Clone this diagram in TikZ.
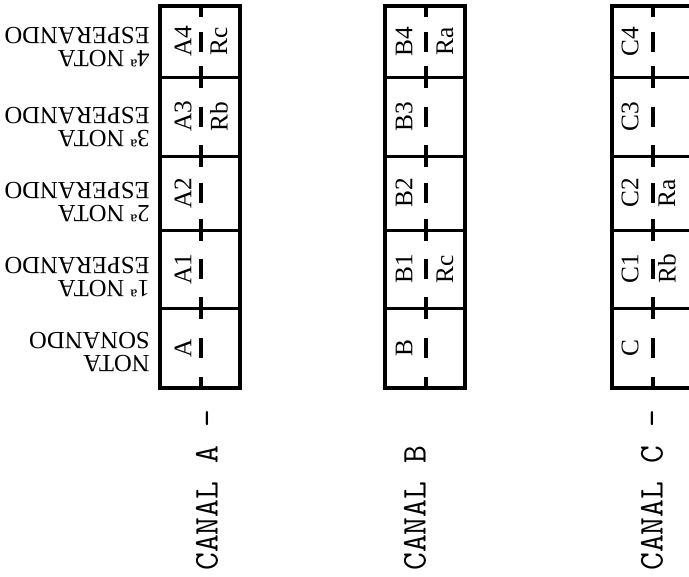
\documentclass[tikz,border=0pt]{standalone}
\usepackage{fontspec}
\setmainfont{Liberation Serif}
\begin{document}
\begin{tikzpicture}[x=0.75pt, y=-0.75pt,
  every node/.style={inner sep=0pt},
  frame/.style={line width=3pt},
  divider/.style={line width=2.25pt},
  midline/.style={line width=2.4pt},
  celltext/.style={font=\fontsize{19}{19}\selectfont, rotate=90},
  waitnote/.style={font=\fontsize{18.5}{17.5}\selectfont, rotate=180, align=left, anchor=west},
  canal/.style={font=\ttfamily\fontsize{26}{26}\selectfont, rotate=90, anchor=west}]
	\useasboundingbox (0,0) rectangle (689,576);
	\clip (0,0) rectangle (689,576);

	% the three columns of boxes
	\foreach \x in {160, 385, 612} {
		\foreach \t/\b in {6/77, 77/156, 156/230, 230/308, 308/388} {
			\draw[divider] (\x,\t) rectangle (\x+80,\b);
			\draw[midline] (\x+41,\t-1) -- (\x+41,\t+11);
			\draw[midline] (\x+41,{(\t+\b)/2-10}) -- (\x+41,{(\t+\b)/2+10});
			\draw[midline] (\x+41,\b-11) -- (\x+41,\b+1);
		}
		\draw[frame] (\x,6) rectangle (\x+80,388);
	}

	% left half of every box
	\foreach \c/\x in {A/183, B/404, C/630} {
		\foreach \n/\y in {/348, 1/269, 2/193, 3/116.5, 4/41.5}
			\node[celltext] (\c\n) at (\x,\y) {\c\n};
	}

	% right half
	\node[celltext] (rA4) at (219, 41.5) {Rc};
	\node[celltext] (rA3) at (219, 116.5) {Rb};
	\node[celltext] (rB4) at (445, 41.5) {Ra};
	\node[celltext] (rB1) at (445, 269) {Rc};
	\node[celltext] (rC2) at (667, 193) {Ra};
	\node[celltext] (rC1) at (667, 269) {Rb};

	% notes beside channel A
	\node[waitnote] (wA) at (150, 352) {NOTA\\SONANDO};
	\node[waitnote] (wA1) at (150, 277) {1ª NOTA\\ESPERANDO};
	\node[waitnote] (wA2) at (150, 202) {2ª NOTA\\ESPERANDO};
	\node[waitnote] (wA3) at (150, 127) {3ª NOTA\\ESPERANDO};
	\node[waitnote] (wA4) at (150, 47) {4ª NOTA\\ESPERANDO};

	% channel names
	\node[canal] (canalA) at (207, 571) {CANAL A -};
	\node[canal] (canalB) at (415, 571) {CANAL B};
	\node[canal] (canalC) at (652, 571) {CANAL C -};
\end{tikzpicture}
\end{document}
